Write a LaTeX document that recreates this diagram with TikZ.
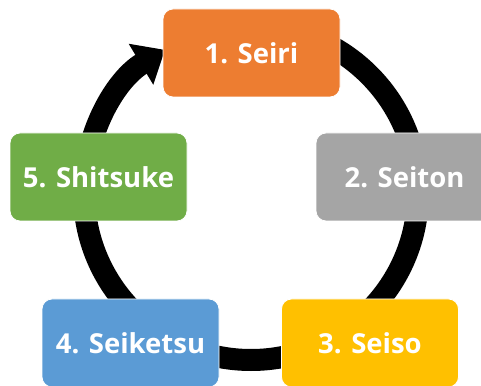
\documentclass[tikz,border=0pt]{standalone}
\usepackage{fontspec}
\setmainfont{Open Sans}
\usetikzlibrary{arrows.meta}
\definecolor{cOrange}{HTML}{ED7D31}
\definecolor{cGray}{HTML}{A5A5A5}
\definecolor{cGold}{HTML}{FFC000}
\definecolor{cBlue}{HTML}{5B9BD5}
\definecolor{cGreen}{HTML}{70AD47}
\tikzset{
  stepbox/.style={rectangle, rounded corners=10pt, minimum width=177pt, minimum height=88pt,
    draw=white, line width=0.8pt, text=white, font=\fontsize{27.5}{32}\selectfont\bfseries, inner sep=0pt},
  ring/.style={line width=22pt, -{Triangle[width=46pt,length=28pt]}}
}
\begin{document}
\begin{tikzpicture}[x=1pt,y=1pt]
\useasboundingbox (0,0) rectangle (481,385);
\coordinate (c) at (251,192);
\draw[ring] (c) ++(90:167) arc[start angle=90, end angle=-239, radius=167];
\node[stepbox, fill=cOrange] (s1) at (251.5,332) {1. Seiri};
\node[stepbox, fill=cGray] (s2) at (404.5,208) {2. Seiton};
\node[stepbox, fill=cGold] (s3) at (370,42) {3. Seiso};
\node[stepbox, fill=cBlue] (s4) at (130.5,42) {4. Seiketsu};
\node[stepbox, fill=cGreen] (s5) at (98.5,208) {5. Shitsuke};
\end{tikzpicture}
\end{document}
